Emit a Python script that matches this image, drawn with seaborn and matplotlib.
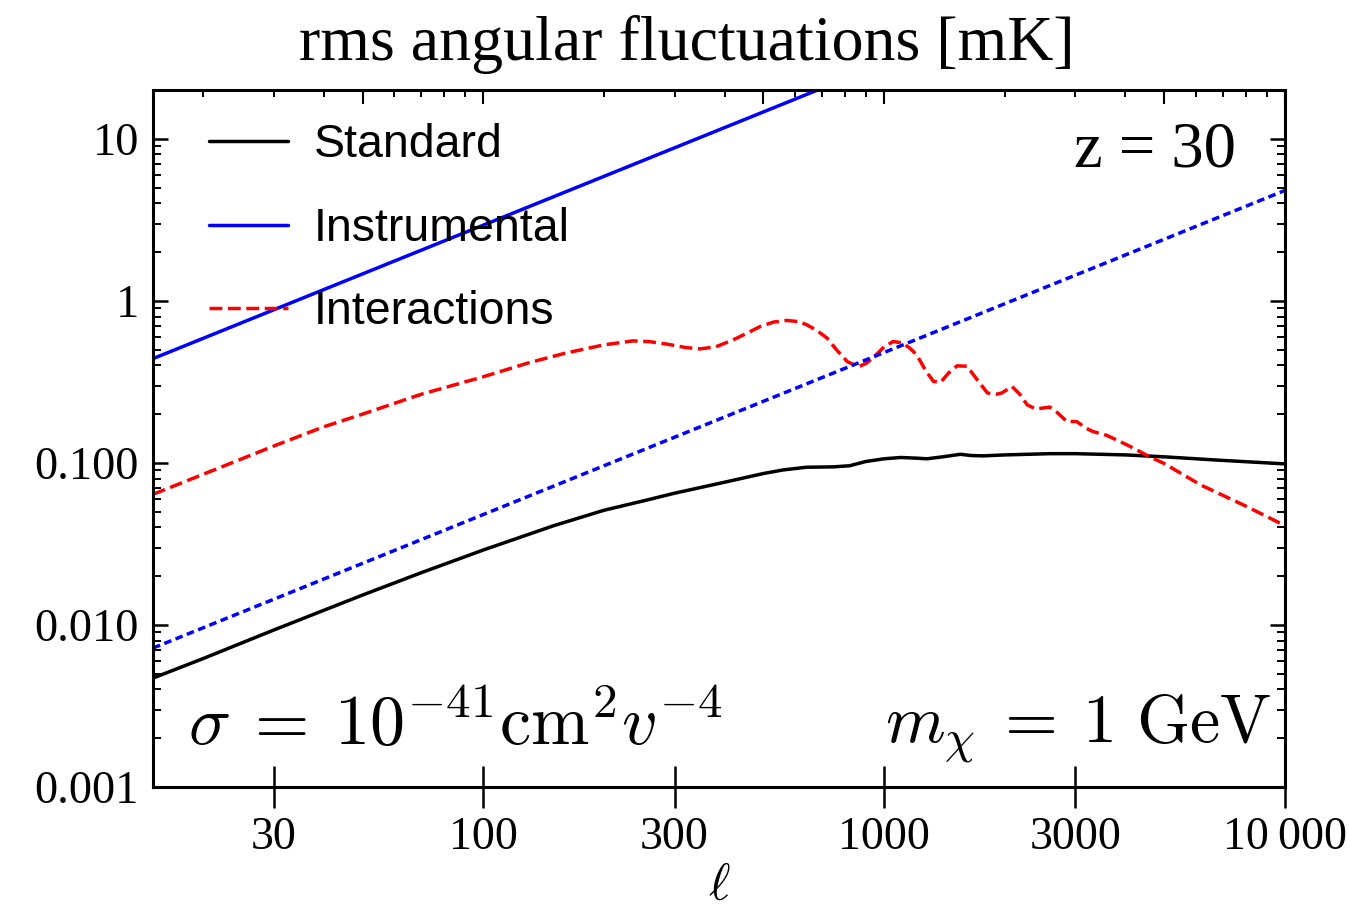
import numpy as np
import pandas as pd
import matplotlib
matplotlib.use("Agg")
import matplotlib.pyplot as plt
import seaborn as sns
from matplotlib.ticker import FixedLocator, FixedFormatter, NullFormatter, NullLocator

# ---------------- data ----------------
std_l = [15, 20, 30, 50, 70, 100, 150, 200, 256, 300, 400, 500, 560, 640, 746, 820,
         900, 1000, 1100, 1200, 1279, 1400, 1549, 1650, 1767, 2000, 2596, 3000, 4000,
         5000, 6800, 10000]
std_v = [0.0047, 0.0062, 0.0093, 0.0153, 0.021, 0.029, 0.041, 0.051, 0.059, 0.065, 0.076,
         0.086, 0.0905, 0.094, 0.0945, 0.096, 0.102, 0.106, 0.108, 0.107, 0.106, 0.109,
         0.113, 0.111, 0.1105, 0.112, 0.114, 0.114, 0.112, 0.109, 0.104, 0.0986]

int_l = [15, 20, 25, 30, 40, 50, 70, 100, 130, 160, 200, 236, 260, 288, 320, 347, 380,
         420, 460, 490, 530, 572, 610, 642, 680, 720, 760, 809, 862, 900, 939, 1000, 1053,
         1110, 1160, 1206, 1270, 1328, 1385, 1450, 1520, 1610, 1700, 1810, 1900, 1966,
         2085, 2180, 2275, 2390, 2590, 2700, 2855, 3020, 3200, 3320, 3590, 4040, 4600,
         5000, 6160, 8000, 10000]
int_v = [0.064, 0.085, 0.106, 0.127, 0.167, 0.2, 0.265, 0.34, 0.415, 0.475, 0.535, 0.566,
         0.56, 0.54, 0.515, 0.505, 0.52, 0.574, 0.64, 0.693, 0.74, 0.757, 0.745, 0.711,
         0.655, 0.59, 0.50, 0.422, 0.392, 0.41, 0.445, 0.52, 0.561, 0.55, 0.51, 0.464,
         0.37, 0.318, 0.315, 0.36, 0.397, 0.395, 0.33, 0.27, 0.265, 0.27, 0.296, 0.265,
         0.228, 0.215, 0.221, 0.205, 0.18, 0.18, 0.163, 0.156, 0.148, 0.129, 0.109,
         0.099, 0.0731, 0.054, 0.041]

inst_l = [15, 1000]
inst_v = [0.44, 29.3]

inst2_l = [15, 10000]
inst2_v = [0.0072, 4.8]

xtick_vals = [30, 100, 300, 1000, 3000, 10000]
xtick_labels = ["30", "100", "300", "1000", "3000", "10\u2009000"]
ytick_vals = [0.001, 0.01, 0.1, 1, 10]
ytick_labels = ["0.001", "0.010", "0.100", "1", "10"]

# ---------------- style ----------------
sns.set_theme(style="ticks")
plt.rcParams["font.family"] = ["Liberation Serif", "DejaVu Serif"]
plt.rcParams["mathtext.fontset"] = "cm"
plt.rcParams["axes.linewidth"] = 2.2
for k in ["text.color", "axes.labelcolor", "xtick.color", "ytick.color", "axes.edgecolor"]:
    plt.rcParams[k] = "black"

fig = plt.figure(figsize=(13.5, 9.09), dpi=100)
ax = fig.add_axes([153 / 1350, 1 - 787 / 909, (1285 - 153) / 1350, (787 - 90) / 909])

lw = 2.5
sns.lineplot(x=std_l, y=std_v, ax=ax, color="black", lw=lw, label="Standard",
             sort=False, estimator=None)
sns.lineplot(x=inst_l, y=inst_v, ax=ax, color="blue", lw=lw, label="Instrumental",
             sort=False, estimator=None)
sns.lineplot(x=int_l, y=int_v, ax=ax, color="red", lw=lw, label="Interactions",
             sort=False, estimator=None, linestyle=(0, (3.7, 1.6)))
sns.lineplot(x=inst2_l, y=inst2_v, ax=ax, color="blue", lw=lw, sort=False,
             estimator=None, linestyle=(0, (2.2, 1.3)))

ax.set_xscale("log")
ax.set_yscale("log")
ax.set_xlim(15, 10000)
ax.set_ylim(0.001, 20)

# bottom x ticks
ax.xaxis.set_major_locator(FixedLocator(xtick_vals))
ax.xaxis.set_major_formatter(FixedFormatter(xtick_labels))
ax.xaxis.set_minor_locator(NullLocator())
ax.tick_params(axis="x", which="major", direction="inout", length=30, width=1.8,
               labelsize=33, pad=6, top=False)

# y ticks
ax.yaxis.set_major_locator(FixedLocator(ytick_vals))
ax.yaxis.set_major_formatter(FixedFormatter(ytick_labels))
ax.tick_params(axis="y", which="major", direction="in", length=11, width=1.8,
               labelsize=33.5, pad=10, left=True, right=True)
ax.tick_params(axis="y", which="minor", direction="in", length=6, width=1.4,
               left=True, right=True)
ax.yaxis.set_minor_formatter(NullFormatter())

# top axis ticks
top = ax.twiny()
top.set_xscale("log")
top.set_xlim(15, 10000)
top.xaxis.set_major_locator(FixedLocator([50, 100, 500, 1000, 5000, 10000]))
top.xaxis.set_minor_locator(FixedLocator([20, 30, 40, 60, 70, 80, 90, 200, 300, 400, 600,
                                          700, 800, 900, 2000, 3000, 4000, 6000, 7000,
                                          8000, 9000]))
top.xaxis.set_major_formatter(NullFormatter())
top.xaxis.set_minor_formatter(NullFormatter())
top.tick_params(axis="x", which="major", direction="in", length=10, width=1.5)
top.tick_params(axis="x", which="minor", direction="in", length=5, width=1.4)
for s in top.spines.values():
    s.set_visible(False)

ax.set_xlabel(r"$\ell$", fontsize=37, labelpad=4)
ax.set_ylabel("")
fig.suptitle("rms angular fluctuations [mK]", fontsize=46, x=0.509, y=0.984)

leg = ax.legend(loc="upper left", bbox_to_anchor=(0.033, 0.979), frameon=False,
                prop={"family": "Liberation Sans", "size": 33.5}, handlelength=1.7,
                handletextpad=0.55, labelspacing=0.85, borderaxespad=0)
for line in leg.get_lines():
    line.set_linewidth(lw)
for t in leg.get_texts():
    t.set_color("black")

ax.text(0.957, 0.913, "z = 30", transform=ax.transAxes, fontsize=46.5, ha="right",
        va="center")
ax.text(0.031, 0.06, r"$\sigma\:=\:10^{-41}\mathrm{cm}^2v^{-4}$", transform=ax.transAxes,
        fontsize=50.5, ha="left", va="baseline")
ax.text(0.988, 0.065, r"$m_\chi\:=\:1\ \mathrm{GeV}$", transform=ax.transAxes,
        fontsize=49, ha="right", va="baseline")

fig.savefig("out.png", dpi=100)
